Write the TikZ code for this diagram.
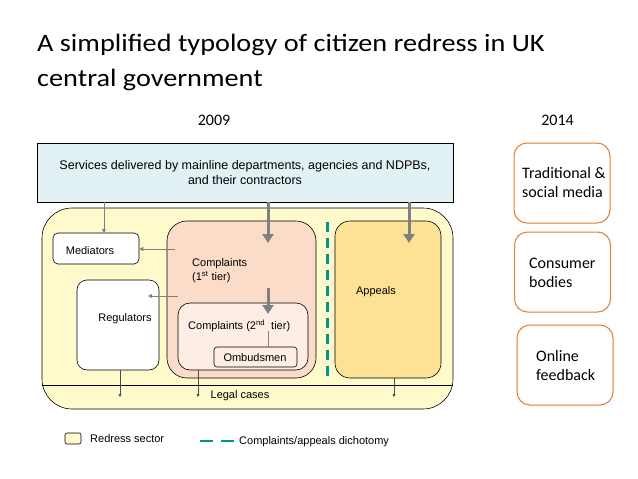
\documentclass[tikz,border=0pt]{standalone}
\usepackage{fontspec}
\setmainfont{Liberation Sans}
\newfontfamily\calib{Carlito}
\usetikzlibrary{arrows.meta}
\definecolor{servfill}{RGB}{226,242,244}
\definecolor{redfill}{RGB}{255,250,204}
\definecolor{cfill}{RGB}{251,220,200}
\definecolor{cfilltwo}{RGB}{253,237,228}
\definecolor{appfill}{RGB}{253,226,150}
\definecolor{teal}{RGB}{0,150,136}
\definecolor{orng}{RGB}{226,125,50}
\definecolor{arrgray}{RGB}{128,128,128}
\tikzset{
  box/.style={draw=black, line width=0.6pt, inner sep=0pt},
  rbox/.style={draw=orng, line width=1pt, rounded corners=13pt, minimum width=96pt, minimum height=80pt, inner sep=0pt},
  lbl/.style={font=\fontsize{11}{14}\selectfont, inner sep=0pt, anchor=base},
  rlbl/.style={font=\calib\fontsize{16}{19}\selectfont, align=left, anchor=base west, inner sep=0pt},
  ttl/.style={font=\calib\fontsize{25}{30}\selectfont, anchor=base west, inner sep=0pt},
  yr/.style={font=\calib\fontsize{16}{18}\selectfont, anchor=base, inner sep=0pt},
  thickarrow/.style={draw=arrgray, line width=3pt, -{Triangle[width=11pt,length=9pt]}},
  thinarrow/.style={draw=arrgray, line width=1pt, -{Triangle[width=4pt,length=4pt]}},
  smallarrow/.style={draw=black!70, line width=0.5pt, -{Triangle[width=3pt,length=3pt]}},
}
\begin{document}
\begin{tikzpicture}[x=1pt,y=-1pt]
\path[use as bounding box, fill=white] (0,0) rectangle (638,479);
% title
\node[ttl] (title1) at (37,52) {\scalebox{1.13}[1]{A simplified typology of citizen redress in UK}};
\node[ttl] (title2) at (37,86) {\scalebox{1.13}[1]{central government}};
\node[yr] (y09) at (214,125) {2009};
\node[yr] (y14) at (557.5,125) {2014};
% services
\node[box, fill=servfill, minimum width=416pt, minimum height=59pt, align=center, font=\fontsize{12.5}{15}\selectfont] (serv) at (245,172.5) {Services delivered by mainline departments, agencies and NDPBs,\\and their contractors};
% redress sector
\node[box, fill=redfill, rounded corners=30pt, minimum width=411pt, minimum height=201pt] (red) at (247.5,308.5) {};
\coordinate (lcl) at (42,385);
\coordinate (lcr) at (453,385);
\draw[line width=0.6pt] (lcl) -- (lcr);
% boxes
\node[box, fill=white, rounded corners=5pt, minimum width=86pt, minimum height=31pt] (med) at (96,248.5) {};
\node[lbl] (medl) at (90,254) {Mediators};
\node[box, fill=white, rounded corners=10pt, minimum width=82pt, minimum height=90pt] (reg) at (118,325) {};
\node[lbl] (regl) at (125,321) {Regulators};
\node[box, fill=cfill, rounded corners=20pt, minimum width=149pt, minimum height=157pt] (c1) at (241.5,299.5) {};
\node[lbl, align=left, anchor=base west] (c1l) at (192,280) {Complaints\\(1\textsuperscript{st} tier)};
\node[box, fill=cfilltwo, rounded corners=12pt, minimum width=130pt, minimum height=67pt] (c2) at (243,336.5) {};
\node[lbl, anchor=base west] (c2l) at (188,329) {Complaints (2\textsuperscript{nd}\ \ tier)};
\node[box, fill=cfilltwo, rounded corners=3pt, minimum width=83pt, minimum height=20pt] (omb) at (255.5,357) {};
\node[lbl] (ombl) at (255,361) {Ombudsmen};
\node[box, fill=appfill, rounded corners=15pt, minimum width=106pt, minimum height=157pt] (app) at (388,299.5) {};
\node[lbl] (appl) at (376,294) {Appeals};
\node[lbl] (legal) at (240,398) {Legal cases};
% dichotomy
\coordinate (d1) at (327,222);
\coordinate (d2) at (327,382);
\draw[teal, line width=3pt, dash pattern=on 10pt off 6pt] (d1) -- (d2);
% arrows
\coordinate (m1) at (104,233);
\draw[thinarrow] (serv.south -| m1) -- (m1);
\coordinate (a1) at (268,243);
\draw[thickarrow] (serv.south -| a1) -- (a1);
\coordinate (a3) at (409,243);
\draw[thickarrow] (serv.south -| a3) -- (a3);
\coordinate (b1) at (175,249);
\draw[thinarrow] (b1) -- (med.east |- b1);
\coordinate (b2) at (178,296);
\coordinate (b3) at (148,296);
\draw[thinarrow] (b2) -- (b3);
\coordinate (b4) at (268,288);
\coordinate (b5) at (268,314);
\draw[thickarrow] (b4) -- (b5);
\coordinate (o1) at (268,331);
\draw[arrgray, line width=1pt] (o1) -- (omb.north -| o1);
% legal arrows
\coordinate (l1) at (120,397);
\draw[smallarrow] (reg.south -| l1) -- (l1);
\coordinate (l2) at (198,397);
\draw[smallarrow] (c2.south -| l2) -- (l2);
\coordinate (l3) at (394,397);
\draw[smallarrow] (app.south -| l3) -- (l3);
% legend
\node[box, fill=redfill, rounded corners=2pt, minimum width=16pt, minimum height=11pt] (legbox) at (73,438.5) {};
\node[lbl, anchor=base west] (legtxt) at (90,442) {Redress sector};
\coordinate (ld1) at (200,441);
\coordinate (ld2) at (234,441);
\draw[teal, line width=2.5pt, dash pattern=on 13pt off 8pt] (ld1) -- (ld2);
\node[lbl, anchor=base west] (legtxt2) at (239,444) {Complaints/appeals dichotomy};
% 2014 boxes
\node[rbox] (r1) at (562,183) {};
\node[rlbl] (r1l) at (522,197) {Traditional \&\\social media};
\node[rbox] (r2) at (562.5,272) {};
\node[rlbl] (r2l) at (529,287) {Consumer\\bodies};
\node[rbox] (r3) at (565,365) {};
\node[rlbl] (r3l) at (536,380) {Online\\feedback};
\end{tikzpicture}
\end{document}
